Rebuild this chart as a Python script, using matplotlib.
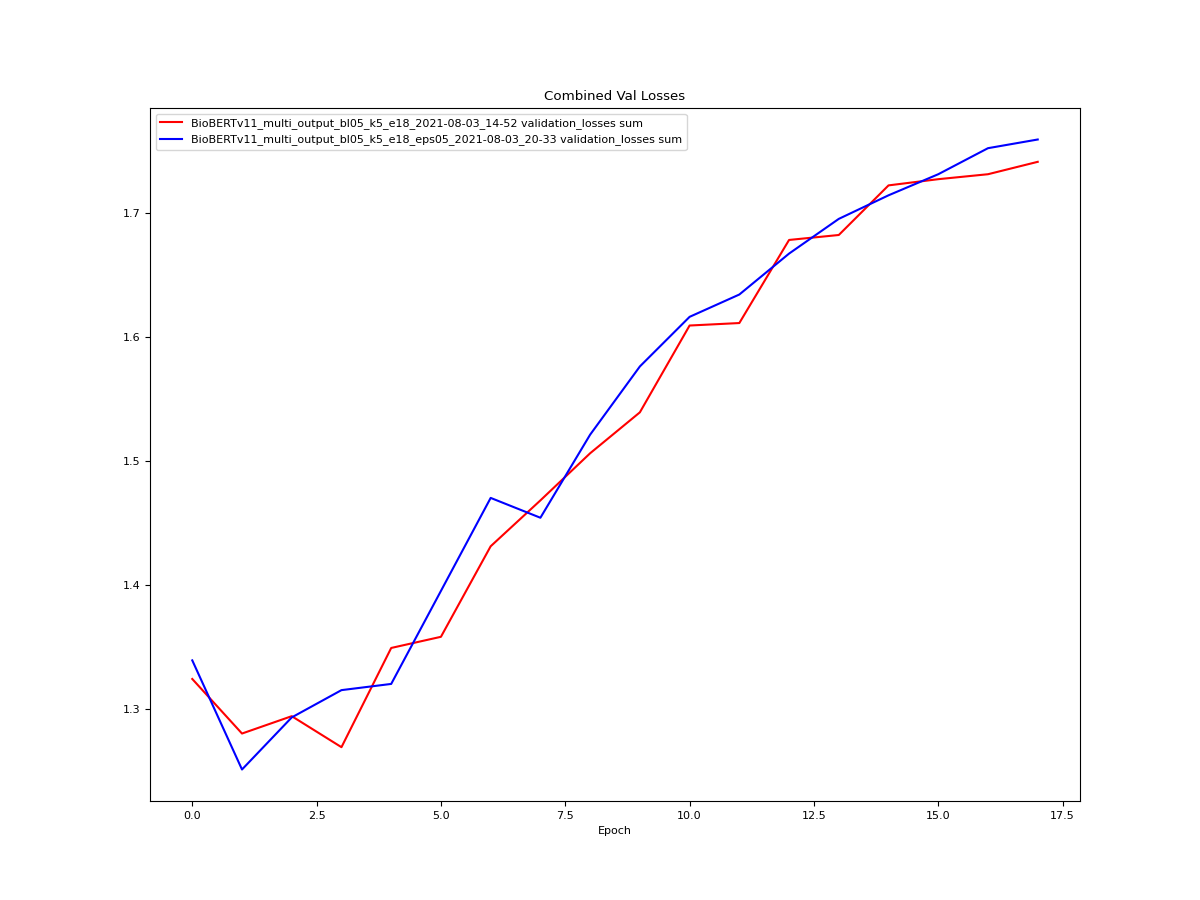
import matplotlib
matplotlib.use("Agg")
import matplotlib.pyplot as plt

epochs = list(range(18))
red = [1.324, 1.280, 1.294, 1.269, 1.349, 1.358, 1.431, 1.468, 1.506, 1.539,
       1.609, 1.611, 1.678, 1.682, 1.722, 1.727, 1.731, 1.741]
blue = [1.339, 1.251, 1.293, 1.315, 1.320, 1.395, 1.470, 1.454, 1.521, 1.576,
        1.616, 1.634, 1.667, 1.695, 1.714, 1.731, 1.752, 1.759]
red_label = "BioBERTv11_multi_output_bl05_k5_e18_2021-08-03_14-52 validation_losses sum"
blue_label = "BioBERTv11_multi_output_bl05_k5_e18_eps05_2021-08-03_20-33 validation_losses sum"

plt.rcParams['font.size'] = 8
fig, ax = plt.subplots(figsize=(12, 9), dpi=100)
ax.plot(epochs, red, color='red', label=red_label)
ax.plot(epochs, blue, color='blue', label=blue_label)
ax.set_title("Combined Val Losses")
ax.set_xlabel("Epoch")
ax.legend(loc='upper left')
fig.savefig("out.png")
